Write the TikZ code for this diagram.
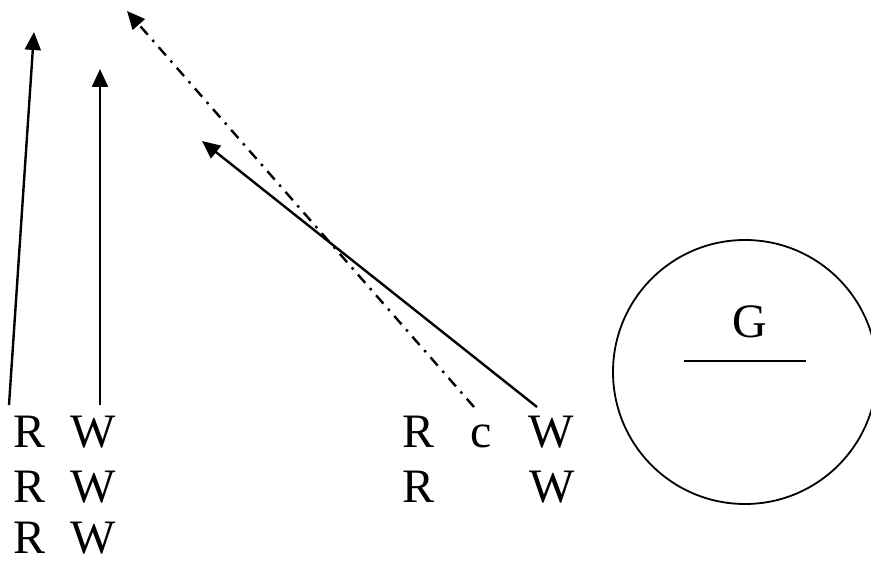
\documentclass[tikz,border=0pt]{standalone}
\usepackage{fontspec}
\setmainfont{Liberation Serif}
\usetikzlibrary{arrows.meta}
\begin{document}
\begin{tikzpicture}[x=1pt,y=-1pt,
  lbl/.style={anchor=base,inner sep=0pt,font=\fontsize{48}{48}\selectfont},
  arr/.style={line width=2.4pt,-{Triangle[length=18pt,width=16pt]}},
  dd/.style={arr,dash pattern=on 11pt off 7pt on 2.5pt off 7pt}]
\useasboundingbox (0,0) rectangle (871,561);
% left text column
\node[lbl] (r1) at (30,448) {R};
\node[lbl] (w1) at (93,448) {W};
\node[lbl] (r2) at (30,503) {R};
\node[lbl] (w2) at (93,503) {W};
\node[lbl] (r3) at (30,553) {R};
\node[lbl] (w3) at (93,553) {W};
% middle group
\node[lbl] (r4) at (419,448) {R};
\node[lbl] (c4) at (481,448) {c};
\node[lbl] (w4) at (551,448) {W};
\node[lbl] (r5) at (419,503) {R};
\node[lbl] (w5) at (552,503) {W};
% circle
\node[draw,circle,line width=1.8pt,minimum size=264pt,inner sep=0pt] (g) at (745,372) {};
\node[lbl] (gt) at (750,338) {G};
\coordinate (gl1) at (684,361);
\coordinate (gl2) at (806,361);
\draw[line width=1.8pt] (gl1) -- (gl2);
% arrow end points
\coordinate (a1s) at (9,405);
\coordinate (a1e) at (34,32);
\coordinate (a2s) at (100,405);
\coordinate (a2e) at (100,69);
\coordinate (a3s) at (474,407);
\coordinate (a3e) at (127,11);
\coordinate (a4s) at (537,407);
\coordinate (a4e) at (202,141);
\draw[arr] (a1s) -- (a1e);
\draw[arr] (a2s) -- (a2e);
\draw[dd] (a3s) -- (a3e);
\draw[arr] (a4s) -- (a4e);
\end{tikzpicture}
\end{document}
